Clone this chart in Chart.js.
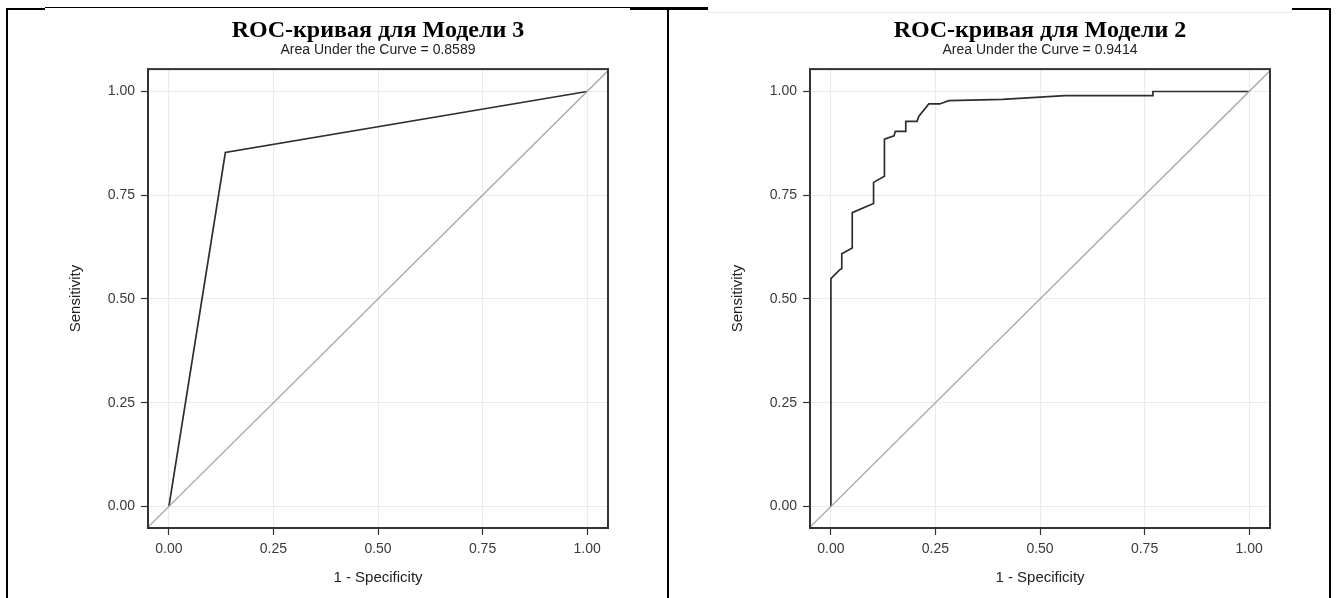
<!DOCTYPE html>
<html lang="ru">
<head>
<meta charset="UTF-8">
<title>ROC-кривые</title>
<script src="https://cdn.jsdelivr.net/npm/chart.js"></script>
<style>
    body {
        margin: 0;
        background: #ffffff;
        width: 1336px;
        height: 598px;
        overflow: hidden;
        position: relative;
    }
    .panel { position: absolute; top: 0; }
    .rule { position: absolute; background: #000; }
</style>
</head>
<body>
<canvas id="roc3" class="panel" style="left:8px" width="658" height="598"></canvas>
<canvas id="roc2" class="panel" style="left:670px" width="658" height="598"></canvas>

<!-- table borders around the two pictures -->
<div class="rule" style="left:6px;top:8px;width:2px;height:590px"></div>
<div class="rule" style="left:667px;top:8px;width:2px;height:590px"></div>
<div class="rule" style="left:1329px;top:8px;width:2px;height:590px"></div>
<div class="rule" style="left:45px;top:7px;width:663px;height:1px"></div>
<div class="rule" style="left:708px;top:12px;width:584px;height:1px;background:#ececec"></div>
<div class="rule" style="left:6px;top:8px;width:39px;height:2px"></div>
<div class="rule" style="left:630px;top:8px;width:78px;height:2px"></div>
<div class="rule" style="left:1292px;top:8px;width:39px;height:2px"></div>

<script>
    const tickValues = [0, 0.25, 0.5, 0.75, 1];
    const xRange = [-0.05, 1.05];
    const yRange = [-0.052, 1.054];
    const diagonal = [-0.06, 1.06];

    // Модель 3: один порог
    const model3Fpr = [0, 0.135, 1];
    const model3Tpr = [0, 0.853, 1];

    // Модель 2: ступенчатая кривая
    const model2Fpr = [0, 0, 0.022, 0.026, 0.026, 0.051, 0.051, 0.102, 0.102, 0.128, 0.128, 0.151, 0.154, 0.179, 0.179, 0.206, 0.210, 0.234, 0.260, 0.282, 0.41, 0.56, 0.77, 0.77, 1];
    const model2Tpr = [0, 0.549, 0.571, 0.573, 0.609, 0.623, 0.708, 0.730, 0.781, 0.796, 0.885, 0.893, 0.904, 0.904, 0.928, 0.928, 0.940, 0.970, 0.970, 0.978, 0.981, 0.990, 0.990, 1.0, 1];

    const SANS = "'Liberation Sans', Arial, sans-serif";
    const SERIF = "'Liberation Serif', 'Times New Roman', serif";

    const frame = {
        id: 'frame',
        afterDatasetsDraw(chart) {
            const { ctx, chartArea: a } = chart;
            ctx.save();
            ctx.strokeStyle = '#333';
            ctx.lineWidth = 2;
            ctx.strokeRect(a.left, a.top, a.width, a.height);
            ctx.restore();
        }
    };

    function axis(label, isX) {
        const range = isX ? xRange : yRange;
        return {
            type: 'linear',
            min: range[0],
            max: range[1],
            afterBuildTicks: s => { s.ticks = tickValues.map(v => ({ value: v })); },
            afterFit: s => { if (isX) s.height = 70; else s.width = 140; },
            grid: { color: '#ebebeb', lineWidth: 1, tickColor: '#333', tickWidth: 1.2, tickLength: 7 },
            border: { display: false },
            ticks: {
                color: '#3a3a3a',
                padding: 6,
                autoSkip: false,
                maxRotation: 0,
                font: { family: SANS, size: 14 },
                callback: v => Number(v).toFixed(2)
            },
            title: {
                display: true,
                text: label,
                color: '#222',
                font: { family: SANS, size: 15, lineHeight: 1.2 },
                padding: isX ? { top: 0, bottom: 11 } : { top: 59, bottom: 0 }
            }
        };
    }

    function rocChart(id, title, auc, fpr, tpr) {
        const ctx = document.getElementById(id).getContext('2d');
        return new Chart(ctx, {
            type: 'scatter',
            data: {
                datasets: [
                    {
                        data: diagonal.map(v => ({ x: v, y: v })),
                        showLine: true,
                        borderColor: '#a8a8a8',
                        borderWidth: 1.3,
                        pointRadius: 0
                    },
                    {
                        data: fpr.map((x, i) => ({ x, y: tpr[i] })),
                        showLine: true,
                        borderColor: '#2e2e2e',
                        borderWidth: 1.7,
                        pointRadius: 0
                    }
                ]
            },
            options: {
                responsive: false,
                animation: false,
                layout: { padding: { left: 0, right: 58, top: 0, bottom: 0 } },
                plugins: {
                    legend: { display: false },
                    tooltip: { enabled: false },
                    title: {
                        display: true,
                        text: title,
                        fullSize: false,
                        color: '#000',
                        font: { family: SERIF, size: 24, weight: 'bold', lineHeight: 0.8 },
                        padding: { top: 21.5, bottom: 0 }
                    },
                    subtitle: {
                        display: true,
                        text: 'Area Under the Curve = ' + auc,
                        fullSize: false,
                        color: '#222',
                        font: { family: SANS, size: 14, lineHeight: 1 },
                        padding: { top: 2.4, bottom: 12 }
                    }
                },
                scales: {
                    x: axis('1 - Specificity', true),
                    y: axis('Sensitivity', false)
                }
            },
            plugins: [frame]
        });
    }

    rocChart('roc3', 'ROC-кривая для Модели 3', '0.8589', model3Fpr, model3Tpr);
    rocChart('roc2', 'ROC-кривая для Модели 2', '0.9414', model2Fpr, model2Tpr);
</script>
</body>
</html>
